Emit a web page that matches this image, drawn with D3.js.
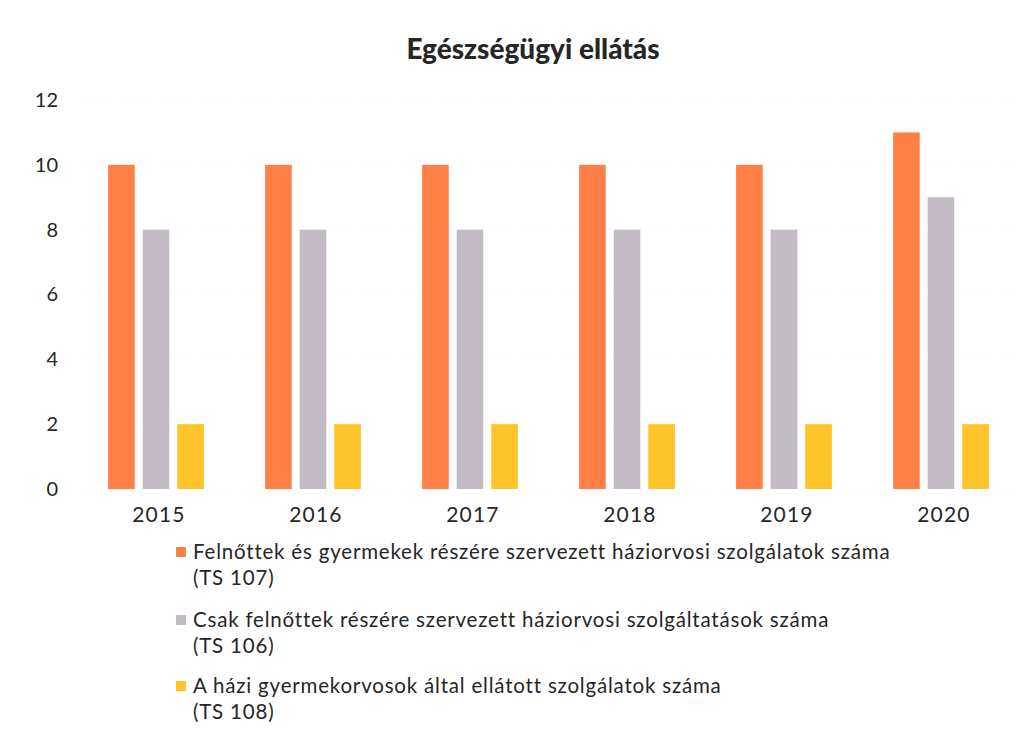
<!DOCTYPE html>
<html><head><meta charset="utf-8">
<script src="https://cdn.jsdelivr.net/npm/d3@7"></script>
<style>body{margin:0;background:#fff}svg{display:block}text{font-family:Lato,"Open Sans",sans-serif;fill:#262626}</style>
</head><body>
<svg id="c" width="1034" height="733"></svg>
<script>
const title = "Egészségügyi ellátás";
const years = ["2015","2016","2017","2018","2019","2020"];
const seriesNames = [
  ["Felnőttek és gyermekek részére szervezett háziorvosi szolgálatok száma","(TS 107)"],
  ["Csak felnőttek részére szervezett háziorvosi szolgáltatások száma","(TS 106)"],
  ["A házi gyermekorvosok által ellátott szolgálatok száma","(TS 108)"]
];
const ts107 = [10,10,10,10,10,11];
const ts106 = [8,8,8,8,8,9];
const ts108 = [2,2,2,2,2,2];
const yTicks = [0,2,4,6,8,10,12];
const colors = ["#FF7F45","#C3BBC4","#FFC42A"];

const series = [ts107, ts106, ts108];
const svg = d3.select("#c");
const y = d3.scaleLinear().domain([0,12]).range([489,100]);
const x0 = d3.scaleBand().domain(years).range([77.5,1019.5]).paddingInner(0.39).paddingOuter(0.195);
const x1 = d3.scaleBand().domain([0,1,2]).range([0,x0.bandwidth()]).paddingInner(0.23);

// gridlines
svg.append("g").selectAll("line").data(yTicks).join("line")
  .attr("x1",80).attr("x2",1015).attr("y1",d=>y(d)).attr("y2",d=>y(d))
  .attr("stroke","#f4f4f4").attr("stroke-dasharray","2,8").attr("stroke-width",1);

// y axis
const ya = svg.append("g").attr("transform","translate(58,0)")
  .call(d3.axisLeft(y).tickValues(yTicks).tickSize(0).tickPadding(0));
ya.select(".domain").remove();
ya.selectAll("text").attr("font-size",20).attr("font-family","Lato,sans-serif").attr("fill","#262626");

// bars
const g = svg.append("g");
years.forEach((yr,i)=>{
  series.forEach((s,j)=>{
    g.append("rect").attr("x",x0(yr)+x1(j)).attr("width",x1.bandwidth())
      .attr("y",y(s[i])).attr("height",y(0)-y(s[i])).attr("fill",colors[j]);
  });
});

// x axis
const xa = svg.append("g").attr("transform","translate(3,507)")
  .call(d3.axisBottom(x0).tickSize(0).tickPadding(0));
xa.select(".domain").remove();
xa.selectAll("text").attr("font-size",21).attr("letter-spacing",1.2).attr("font-family","Lato,sans-serif").attr("fill","#262626").attr("dy","0.71em");

// title
svg.append("text").attr("x",533).attr("y",59).attr("text-anchor","middle")
  .attr("font-size",28).attr("font-weight",900).attr("fill","#1a1a1a").text(title);

// legend
const legY = [559,627,693];
seriesNames.forEach((n,j)=>{
  svg.append("rect").attr("x",176).attr("y",legY[j]-12).attr("width",10).attr("height",10).attr("fill",colors[j]);
  svg.append("text").attr("x",193).attr("y",legY[j]).attr("font-size",20.5).attr("letter-spacing",0.8).text(n[0]);
  svg.append("text").attr("x",193).attr("y",legY[j]+26).attr("font-size",20.5).attr("letter-spacing",0.8).text(n[1]);
});
</script>
</body></html>
